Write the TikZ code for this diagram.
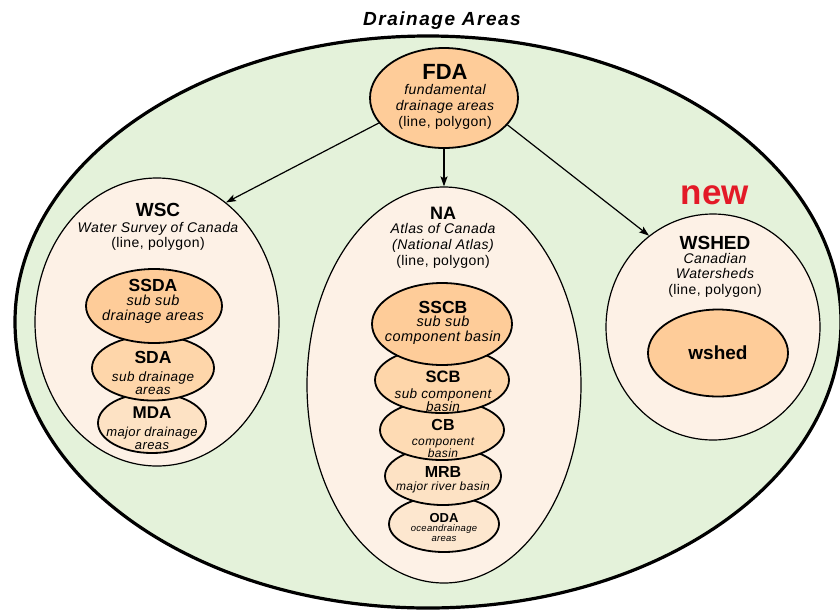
\documentclass[tikz,border=0pt]{standalone}
\usepackage{fontspec}
\setmainfont{Liberation Sans}
\newfontfamily\spaced[LetterSpace=3]{Liberation Sans}
\newfontfamily\wide[LetterSpace=8]{Liberation Sans}
\usetikzlibrary{shapes.geometric,arrows.meta}

\definecolor{areagreen}{RGB}{228,242,218}
\definecolor{paleregion}{RGB}{253,241,230}
\definecolor{deeporange}{RGB}{254,204,153}
\definecolor{midorange}{RGB}{254,214,170}
\definecolor{cborange}{RGB}{254,219,180}
\definecolor{lightorange}{RGB}{253,226,196}
\definecolor{paleorange}{RGB}{253,231,207}
\definecolor{newred}{RGB}{227,26,39}

\tikzset{
  zone/.style={ellipse, draw, inner sep=0pt, line width=1.2pt, fill=paleregion},
  part/.style={ellipse, draw, inner sep=0pt, line width=1.8pt},
  hd/.style={inner sep=0pt, font=\bfseries\fontsize{#1}{#1}\selectfont},
  desc/.style 2 args={inner sep=0pt, align=center,
    font=\spaced\fontsize{#1}{#2}\selectfont},
  link/.style={line width=1.2pt, -{Stealth[length=10pt,width=7pt,inset=2pt]}}
}

\begin{document}
\begin{tikzpicture}[x=1pt,y=-1pt]
\useasboundingbox (0,0) rectangle (840,611);

% outer drainage-area region and its heading
\node[ellipse, draw, line width=3.2pt, fill=areagreen, inner sep=0pt,
      minimum width=826pt, minimum height=572pt] (drain) at (428,322) {};
\node[inner sep=0pt, font=\wide\bfseries\itshape\fontsize{19}{19}\selectfont]
      (title) at (442,21) {Drainage Areas};

% fundamental drainage areas
\node[part, fill=deeporange, minimum width=148pt, minimum height=100pt] (fda) at (444,98) {};
\node[hd=22] (fdat) at (445,72) {FDA};
\node[desc={14}{16}] (fdad) at (445,107)
  {\itshape fundamental\\\itshape drainage areas\\(line, polygon)};

% Water Survey of Canada
\node[zone, minimum width=244pt, minimum height=288pt] (wsc) at (157,322) {};
\node[part, fill=lightorange, minimum width=108pt, minimum height=60pt] (mda) at (152,423) {};
\node[part, fill=midorange, minimum width=122pt, minimum height=65pt] (sda) at (153,368) {};
\node[part, fill=deeporange, minimum width=136pt, minimum height=74pt] (ssda) at (154,306) {};
\node[hd=19] (wsct) at (158,210) {WSC};
\node[desc={14}{15}] (wscd) at (158,236.5) {\itshape Water Survey of Canada\\(line, polygon)};
\node[hd=17.5] (ssdat) at (153,285) {SSDA};
\node[desc={14.5}{15}] (ssdad) at (153,309.5) {\itshape sub sub\\\itshape drainage areas};
\node[hd=17.5] (sdat) at (153,357) {SDA};
\node[desc={13.5}{13}] (sdad) at (153,383.5) {\itshape sub drainage\\\itshape areas};
\node[hd=17] (mdat) at (152,413) {MDA};
\node[desc={13}{13}] (mdad) at (152,438.5) {\itshape major drainage\\\itshape areas};

% Atlas of Canada (National Atlas)
\node[zone, minimum width=274pt, minimum height=396pt] (na) at (444,385) {};
\node[part, fill=paleorange, minimum width=110pt, minimum height=56pt] (oda) at (444,524) {};
\node[part, fill=lightorange, minimum width=116pt, minimum height=58pt] (mrb) at (443,476) {};
\node[part, fill=cborange, minimum width=124pt, minimum height=60pt] (cb) at (442,430) {};
\node[part, fill=midorange, minimum width=134pt, minimum height=66pt] (scb) at (442,380) {};
\node[part, fill=deeporange, minimum width=140pt, minimum height=82pt] (sscb) at (442,324) {};
\node[hd=18] (nat) at (443,213) {NA};
\node[desc={14}{16}] (nad) at (443,246)
  {\itshape Atlas of Canada\\\itshape (National Atlas)\\(line, polygon)};
\node[hd=17.5] (sscbt) at (443,307) {SSCB};
\node[desc={14.5}{15}] (sscbd) at (443,330.5) {\itshape sub sub\\\itshape component basin};
\node[hd=16.5] (scbt) at (443,377) {SCB};
\node[desc={13.5}{13}] (scbd) at (443,400.5) {\itshape sub component\\\itshape basin};
\node[hd=16] (cbt) at (443,425) {CB};
\node[desc={12}{11}] (cbd) at (443,447.5) {\itshape component\\\itshape basin};
\node[hd=16] (mrbt) at (443,472) {MRB};
\node[desc={12}{12}] (mrbd) at (443,487) {\itshape major river basin};
\node[hd=13] (odat) at (444,518) {ODA};
\node[desc={9.5}{10}] (odad) at (444,533) {\itshape oceandrainage\\\itshape areas};

% Canadian Watersheds
\node[inner sep=0pt, text=newred, font=\bfseries\fontsize{35}{35}\selectfont] (new) at (715,195) {new};
\node[zone, minimum width=214pt, minimum height=226pt] (wshed) at (713,327) {};
\node[part, fill=deeporange, minimum width=140pt, minimum height=87pt] (ws) at (718,353) {};
\node[hd=19] (wshedt) at (715,243) {WSHED};
\node[desc={14}{15.5}] (wshedd) at (715,275)
  {\itshape Canadian\\\itshape Watersheds\\(line, polygon)};
\node[hd=19] (wst) at (718,353) {wshed};

% derivation arrows
\draw[link] (fda.201) -- (wsc.60.5);
\draw[link] (fda.south) -- (fda.south |- na.north);
\draw[link] (fda.-23) -- (wshed.125.7);
\end{tikzpicture}
\end{document}
